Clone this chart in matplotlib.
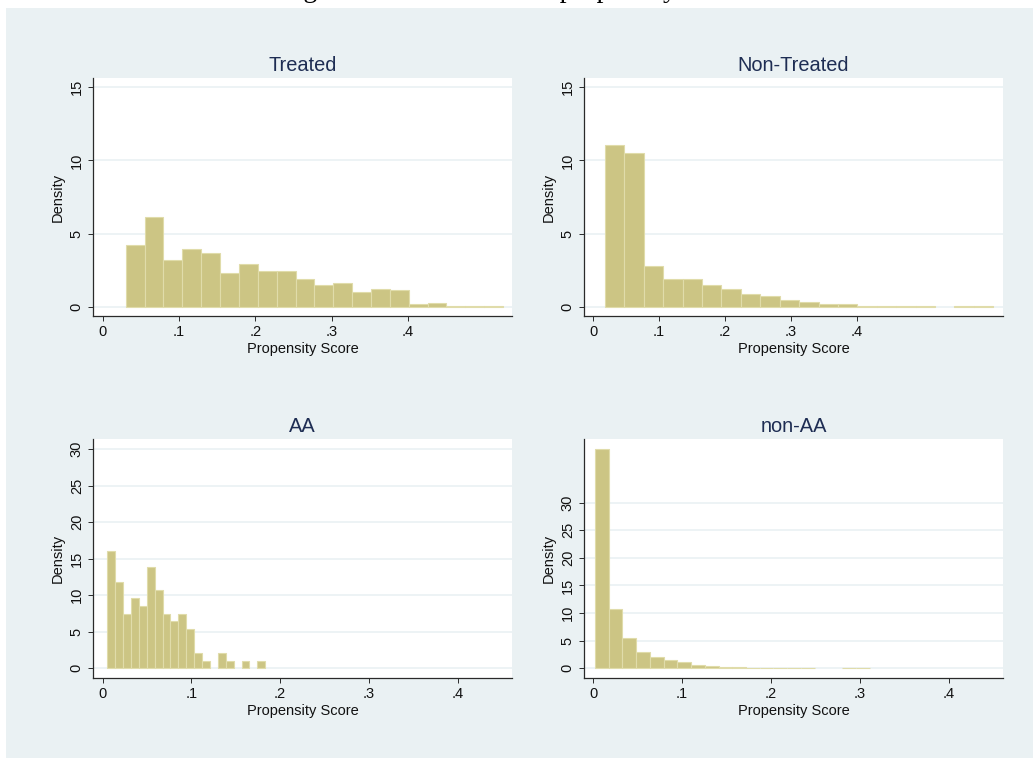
import numpy as np
import matplotlib
matplotlib.use("Agg")
import matplotlib.pyplot as plt
from matplotlib.patches import Rectangle

plt.rcParams['font.family'] = ['Liberation Sans', 'DejaVu Sans']

# bin definitions (first edge, last edge) - 20 bins each
treated_range = (0.0302, 0.5246)
nontreated_range = (0.0177, 0.6076)
aa_range = (0.00526, 0.1833)
nonaa_range = (0.0019, 0.311)

# densities
treated_dens = [4.22, 6.11, 3.19, 3.92, 3.65, 2.33, 2.89, 2.44, 2.44, 1.87,
                1.48, 1.60, 1.03, 1.21, 1.14, 0.16, 0.27, 0.07, 0.07, 0.07]
nontreated_dens = [11.06, 10.49, 2.76, 1.91, 1.87, 1.50, 1.19, 0.87, 0.71, 0.48,
                   0.34, 0.18, 0.16, 0.07, 0.07, 0.05, 0.05, 0.0, 0.05, 0.05]
aa_dens = [16.05, 11.77, 7.49, 9.63, 8.56, 13.91, 10.70, 7.49, 6.42, 7.49,
           5.35, 2.14, 1.07, 0.0, 2.14, 1.07, 0.0, 1.07, 0.0, 1.07]
nonaa_dens = [39.7, 10.74, 5.49, 2.90, 2.11, 1.45, 1.15, 0.54, 0.36, 0.24,
              0.18, 0.12, 0.12, 0.12, 0.06, 0.06, 0.0, 0.0, 0.06, 0.06]

titles = ["Treated", "Non-Treated", "AA", "non-AA"]
xticks = [0, 0.1, 0.2, 0.3, 0.4]
xticklabels = ["0", ".1", ".2", ".3", ".4"]

W, H = 1033, 758
fig = plt.figure(figsize=(W / 100, H / 100), dpi=100, facecolor="white")

# graph region background (behind the axes)
fig.add_artist(Rectangle((6 / W, 0), 1 - 6 / W, 1 - 8 / H,
                         transform=fig.transFigure, facecolor="#eaf1f3",
                         edgecolor="none", zorder=-10))

# caption, mostly cut off by the top edge
fig.text(0.5, 1 + 3 / H, "Figure 2: Distribution of propensity scores",
         ha="center", va="baseline", fontsize=20, family="Liberation Serif",
         color="black")

bg = "#eaf1f3"
bar_fill = "#ccc584"
bar_edge = "#e0dcaa"
navy = "#1e2d53"


def panel(px, title, rng, dens, ylim, xlim, yticks):
    l, r, t, b = px
    ax = fig.add_axes([l / W, 1 - b / H, (r - l) / W, (b - t) / H])
    ax.set_facecolor("white")
    dens = np.asarray(dens)
    edges = np.linspace(rng[0], rng[1], len(dens) + 1)
    keep = dens > 0  # empty bins draw nothing
    ax.bar(edges[:-1][keep], dens[keep], width=np.diff(edges)[keep], align="edge",
           color=bar_fill, edgecolor=bar_edge, linewidth=0.8, zorder=2)
    ax.set_xlim(*xlim)
    ax.set_ylim(*ylim)
    ax.set_xticks(xticks)
    ax.set_xticklabels(xticklabels)
    ax.set_yticks(yticks)
    ax.set_yticklabels([str(v) for v in yticks], rotation=90, va="center")
    ax.yaxis.grid(True, color=bg, linewidth=1.2, zorder=1)
    ax.set_axisbelow(True)
    for s in ["top", "right"]:
        ax.spines[s].set_visible(False)
    for s in ["left", "bottom"]:
        ax.spines[s].set_color("#2a2a2a")
        ax.spines[s].set_linewidth(0.9)
    ax.tick_params(direction="out", length=3.8, width=0.7, color="#2a2a2a",
                   labelsize=10.5, labelcolor="#111111", pad=3)
    ax.set_xlabel("Propensity Score", fontsize=10.5, color="#111111", labelpad=2)
    ax.set_ylabel("Density", fontsize=10.5, color="#111111", labelpad=4)
    ax.set_title(title, fontsize=14.4, color=navy, pad=5)
    return ax


panel((93.3, 511.7, 78, 316), titles[0], treated_range, treated_dens,
      (-0.64, 15.64), (-0.0123, 0.536), [0, 5, 10, 15])
panel((584.3, 1002.7, 78, 316), titles[1], nontreated_range, nontreated_dens,
      (-0.64, 15.64), (-0.0137, 0.622), [0, 5, 10, 15])
panel((93.3, 511.7, 439.3, 677.7), titles[2], aa_range, aa_dens,
      (-1.28, 31.33), (-0.0105, 0.461), [0, 5, 10, 15, 20, 25, 30])
panel((584.3, 1002.7, 439.3, 677.7), titles[3], nonaa_range, nonaa_dens,
      (-1.70, 41.46), (-0.0101, 0.4608), [0, 5, 10, 15, 20, 25, 30])

fig.savefig("out.png", dpi=100, facecolor="white")
